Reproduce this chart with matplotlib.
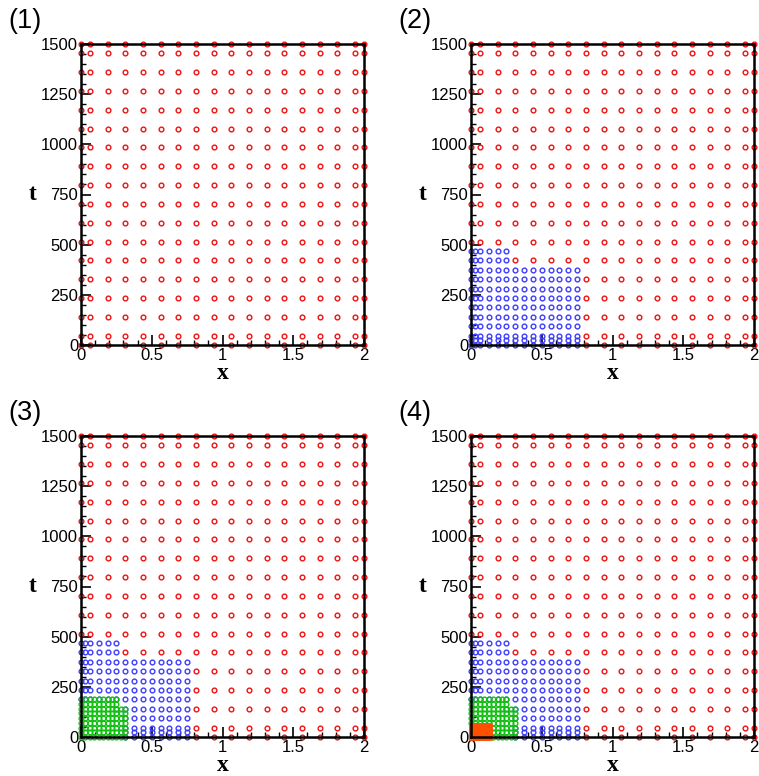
import numpy as np
import matplotlib
matplotlib.use("Agg")
import matplotlib.pyplot as plt
from matplotlib.ticker import MultipleLocator

# level 0 (red): cell centres of a 16x16 mesh plus the boundary points
red_x = [0, 0.0625, 0.1875, 0.3125, 0.4375, 0.5625, 0.6875, 0.8125, 0.9375,
         1.0625, 1.1875, 1.3125, 1.4375, 1.5625, 1.6875, 1.8125, 1.9375, 2]
red_t = [0, 46.875, 140.625, 234.375, 328.125, 421.875, 515.625, 609.375,
         703.125, 796.875, 890.625, 984.375, 1078.125, 1171.875, 1265.625,
         1359.375, 1453.125, 1500]

# level 1 (blue)
blue_x = [0, 0.03125, 0.0625, 0.125, 0.1875, 0.25, 0.3125, 0.375, 0.4375,
          0.5, 0.5625, 0.625, 0.6875, 0.75]
blue_t = [0, 23.4375, 46.875, 93.75, 140.625, 187.5, 234.375, 281.25,
          328.125, 375, 421.875, 468.75]
blue_boxes = [(0.75, 375), (0.25, 468.75)]

# level 2 (green)
green_x = [0, 0.03125, 0.0625, 0.09375, 0.125, 0.15625, 0.1875, 0.21875,
           0.25, 0.28125, 0.3125]
green_t = [0, 23.4375, 46.875, 70.3125, 93.75, 117.1875, 140.625, 164.0625,
           187.5]
green_boxes = [(0.3125, 140.625), (0.25, 187.5)]

# level 3 (orange)
orange_x = [0, 0.015625, 0.03125, 0.046875, 0.0625, 0.078125, 0.09375,
            0.109375, 0.125]
orange_t = [0, 11.71875, 23.4375, 35.15625, 46.875, 58.59375]
orange_boxes = [(0.125, 58.59375)]

panel_labels = ["(1)", "(2)", "(3)", "(4)"]

levels = [
    dict(x=red_x, t=red_t, boxes=None, color="#f01010", marker="o",
         ms=3.4, mew=1.0, fill=False),
    dict(x=blue_x, t=blue_t, boxes=blue_boxes, color="#3c3cff", marker="o",
         ms=3.4, mew=1.0, fill=False),
    dict(x=green_x, t=green_t, boxes=green_boxes, color="#10c010",
         marker="o", ms=3.4, mew=1.0, fill=False),
    dict(x=orange_x, t=orange_t, boxes=orange_boxes, color="#ff5000",
         marker="s", ms=3.6, mew=0.5, fill=True),
]


def inside(X, T, boxes, eps):
    m = np.zeros(X.shape, dtype=bool)
    for xm, tm in boxes:
        m |= (X < xm + eps) & (T < tm + eps)
    return m


def draw_panel(ax, nlev):
    for i in range(nlev):
        lev = levels[i]
        X, T = np.meshgrid(np.array(lev["x"]), np.array(lev["t"]))
        keep = np.ones(X.shape, dtype=bool)
        if lev["boxes"]:
            keep &= inside(X, T, lev["boxes"], 1e-9)
        for j in range(i + 1, nlev):
            keep &= ~inside(X, T, levels[j]["boxes"], -1e-9)
        fc = lev["color"] if lev["fill"] else "none"
        ax.plot(X[keep], T[keep], ls="none", marker=lev["marker"],
                ms=lev["ms"], mew=lev["mew"], mec=lev["color"], mfc=fc,
                clip_on=False, zorder=2)

    ax.set_xlim(0, 2)
    ax.set_ylim(0, 1500)
    ax.xaxis.set_minor_locator(MultipleLocator(0.1))
    ax.yaxis.set_major_locator(MultipleLocator(250))
    ax.yaxis.set_minor_locator(MultipleLocator(50))
    ax.set_xticks([0, 0.5, 1, 1.5, 2])
    ax.set_xticklabels(["0", "0.5", "1", "1.5", "2"])
    ax.tick_params(which="both", direction="in", top=False, right=False,
                   labelsize=12, pad=2)
    ax.tick_params(which="major", length=7, width=1.2)
    ax.tick_params(which="minor", length=3.5, width=1)
    for lab in ax.get_xticklabels() + ax.get_yticklabels():
        lab.set_fontfamily("Liberation Sans")
    for s in ax.spines.values():
        s.set_linewidth(1.8)
        s.set_zorder(3)
    ax.text(0.5, -0.061, "x", transform=ax.transAxes, ha="center",
            va="top", fontsize=17, fontweight="bold",
            family="Liberation Serif")
    ax.text(-0.17, 0.5, "t", transform=ax.transAxes, ha="center",
            va="center", fontsize=17, fontweight="bold",
            family="Liberation Serif")


W, H = 759, 776
fig = plt.figure(figsize=(W / 100, H / 100), dpi=100)
lefts = [81, 471, 81, 471]
tops = [44, 44, 436, 436]
for k in range(4):
    ax = fig.add_axes([lefts[k] / W, 1 - (tops[k] + 301) / H, 283 / W, 301 / H])
    draw_panel(ax, k + 1)
    fig.text((lefts[k] - 73) / W, 1 - (tops[k] - 23) / H, panel_labels[k],
             ha="left", va="center", fontsize=19.5, family="Liberation Sans")

fig.savefig("out.png", dpi=100)
